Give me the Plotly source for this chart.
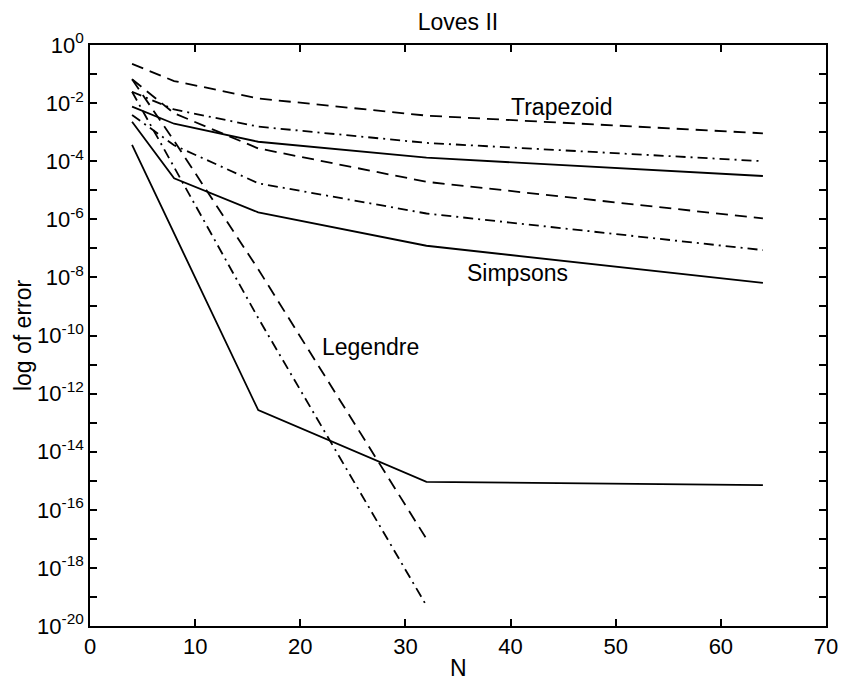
import plotly.graph_objects as go

# Data (log10 of error)
N_all = [4, 8, 16, 32, 64]
N_leg = [4, 8, 16, 32]

trap_dash = [-0.65, -1.24, -1.84, -2.43, -3.04]
trap_dashdot = [-1.61, -2.22, -2.81, -3.37, -4.00]
trap_solid = [-2.12, -2.71, -3.33, -3.88, -4.51]

simp_dash = [-1.18, -2.35, -3.56, -4.71, -5.97]
simp_dashdot = [-2.41, -3.45, -4.76, -5.80, -7.06]
simp_solid = [-2.64, -4.59, -5.76, -6.91, -8.19]

leg_solid = [-3.44, -6.50, -12.57, -15.04, -15.15]
leg_dashdot = [-1.61, -4.20, -9.40, -19.30]
leg_dash = [-1.18, -3.30, -7.72, -17.00]

y_exps = list(range(0, -21, -1))
x_ticks = [0, 10, 20, 30, 40, 50, 60, 70]

FONT = "Liberation Sans, Arial, Helvetica, sans-serif"
DASH = "12px,7px"
DASHDOT = "10px,5px,2px,5px"

series = [
    (N_all, trap_dash, DASH),
    (N_all, trap_dashdot, DASHDOT),
    (N_all, trap_solid, "solid"),
    (N_all, simp_dash, DASH),
    (N_all, simp_dashdot, DASHDOT),
    (N_all, simp_solid, "solid"),
    (N_all, leg_solid, "solid"),
    (N_leg, leg_dashdot, DASHDOT),
    (N_leg, leg_dash, DASH),
]

fig = go.Figure()
for xs, ys, dash in series:
    fig.add_trace(go.Scatter(
        x=xs, y=[10 ** v for v in ys], mode="lines",
        line=dict(color="black", width=1.8, dash=dash),
        showlegend=False, hoverinfo="skip"))

ytext = [("10<sup>%d</sup>" % e if e == 0 else "10<sup>-%d</sup>" % (-e)) if e % 2 == 0 else ""
         for e in y_exps]

fig.update_layout(
    width=850, height=687,
    margin=dict(l=90, r=18, t=45, b=61),
    paper_bgcolor="white", plot_bgcolor="white",
    font=dict(family=FONT, size=22, color="black"),
    title=dict(text="Loves II", x=0.5, xref="paper", y=1 - 22 / 687, yanchor="middle",
               font=dict(family=FONT, size=23, color="black")),
    xaxis=dict(range=[0, 70], tickvals=x_ticks, ticktext=[str(v) for v in x_ticks],
               showgrid=False, zeroline=False, showline=True, linecolor="black",
               linewidth=1.5, mirror="ticks", ticks="inside", ticklen=7,
               tickcolor="black", tickwidth=1.5,
               tickfont=dict(family=FONT, size=22, color="black")),
    yaxis=dict(type="log", range=[-20, 0], tickvals=[10.0 ** e for e in y_exps],
               ticktext=ytext, showgrid=False, zeroline=False, showline=True,
               linecolor="black", linewidth=1.5, mirror="ticks", ticks="inside",
               ticklen=7, tickcolor="black", tickwidth=1.5,
               tickfont=dict(family=FONT, size=22, color="black")),
)

annotations = [
    dict(x=44.8, y=-2.15, xref="x", yref="y", text="Trapezoid", showarrow=False,
         font=dict(family=FONT, size=23, color="black")),
    dict(x=40.7, y=-7.85, xref="x", yref="y", text="Simpsons", showarrow=False,
         font=dict(family=FONT, size=23, color="black")),
    dict(x=26.65, y=-10.4, xref="x", yref="y", text="Legendre", showarrow=False,
         font=dict(family=FONT, size=23, color="black")),
    dict(x=0.5, y=-(668 - 625.7) / (687 - 45 - 61), xref="paper", yref="paper",
         text="N", showarrow=False, yanchor="middle",
         font=dict(family=FONT, size=23, color="black")),
    dict(x=-(90 - 22) / 742, y=0.5, xref="paper", yref="paper", text="log of error",
         showarrow=False, textangle=-90, xanchor="center", yanchor="middle",
         font=dict(family=FONT, size=23, color="black")),
]
fig.update_layout(annotations=annotations)

fig.write_html("out.html")
